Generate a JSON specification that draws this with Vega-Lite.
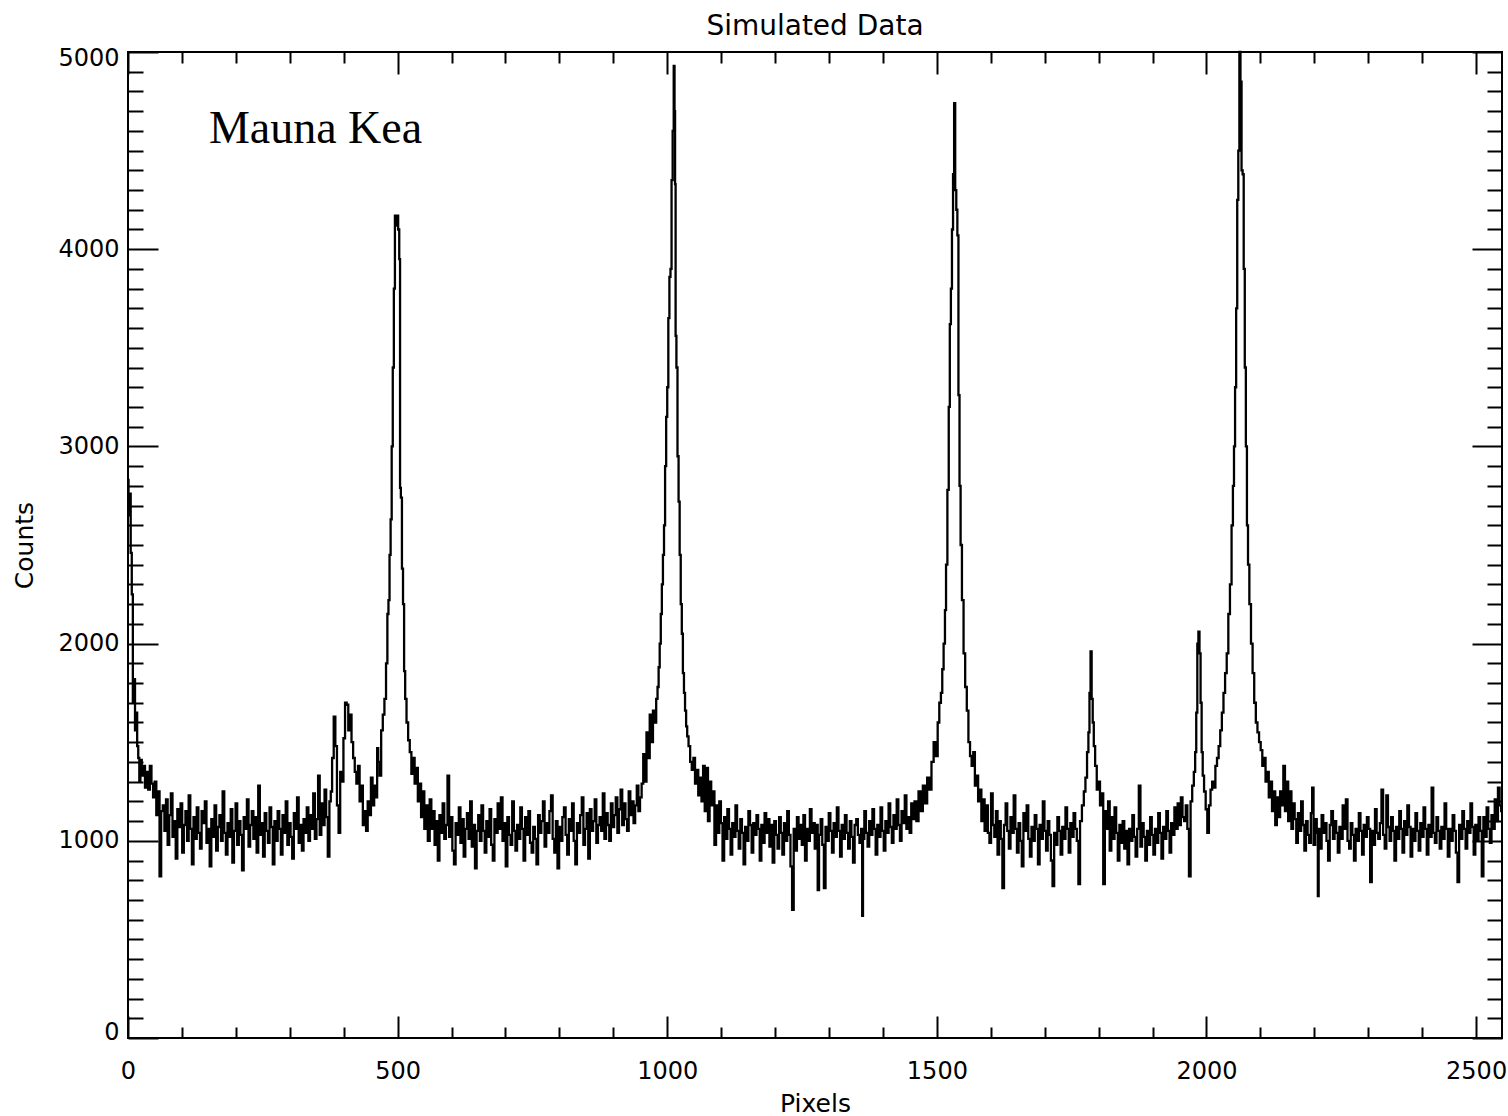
{
"$schema": "https://vega.github.io/schema/vega-lite/v6.json",
"width": 1374, "height": 986,
"autosize": {"type": "none"},
"padding": {"left": 128, "top": 52, "right": 6, "bottom": 78},
"background": "white",
"config": {
  "view": {"stroke": "black", "strokeWidth": 2},
  "axis": {"grid": false, "domain": false, "tickColor": "black", "tickWidth": 2, "labelFont": "DejaVu Sans", "labelFontSize": 24, "labelColor": "black", "titleFont": "DejaVu Sans", "titleFontSize": 25, "titleFontWeight": "normal", "titleColor": "black"}
},
"title": {"text": "Simulated Data", "font": "DejaVu Sans", "fontSize": 28, "fontWeight": "normal", "color": "black", "offset": 5},
"datasets": {
"spectrum": [
{"x":0,"y":2830},{"x":2,"y":2650},{"x":4,"y":2760},{"x":6,"y":2460},{"x":8,"y":2250},{"x":10,"y":1700},{"x":12,"y":1820},{"x":14,"y":1560},{"x":16,"y":1650},{"x":18,"y":1480},{"x":20,"y":1420},{"x":22,"y":1300},{"x":24,"y":1410},{"x":27,"y":1330},{"x":30,"y":1380},{"x":33,"y":1270},{"x":36,"y":1350},{"x":39,"y":1260},{"x":42,"y":1380},{"x":45,"y":1290},{"x":48,"y":1220},{"x":51,"y":1300},{"x":54,"y":1130},{"x":57,"y":1250},{"x":60,"y":820},{"x":63,"y":1150},
{"x":66,"y":1180},{"x":69,"y":1050},{"x":72,"y":1210},{"x":75,"y":980},{"x":78,"y":1130},{"x":81,"y":1240},{"x":84,"y":1020},{"x":87,"y":1100},{"x":90,"y":910},{"x":93,"y":1160},{"x":96,"y":1070},{"x":99,"y":1190},{"x":102,"y":940},{"x":105,"y":1080},{"x":108,"y":1150},{"x":111,"y":1000},{"x":114,"y":1230},{"x":117,"y":1060},{"x":120,"y":880},{"x":123,"y":1120},{"x":126,"y":1010},{"x":129,"y":1170},{"x":132,"y":1040},{"x":135,"y":960},{"x":138,"y":1150},{"x":141,"y":1090},{"x":144,"y":1200},{"x":147,"y":990},{"x":150,"y":1060},{"x":153,"y":870},{"x":156,"y":1110},{"x":159,"y":1020},{"x":162,"y":1180},{"x":165,"y":950},{"x":168,"y":1070},{"x":171,"y":1130},{"x":174,"y":1000},{"x":177,"y":1250},{"x":180,"y":1040},{"x":183,"y":930},{"x":186,"y":1090},{"x":189,"y":1020},{"x":192,"y":1160},{"x":195,"y":890},{"x":198,"y":1050},{"x":201,"y":1190},{"x":204,"y":980},{"x":207,"y":1100},{"x":210,"y":1030},{"x":213,"y":850},{"x":216,"y":1120},{"x":219,"y":1060},{"x":222,"y":1210},{"x":225,"y":970},{"x":228,"y":1080},{"x":231,"y":1150},{"x":234,"y":1010},{"x":237,"y":1120},{"x":240,"y":940},{"x":243,"y":1280},{"x":246,"y":1030},{"x":249,"y":1090},{"x":252,"y":920},{"x":255,"y":1140},{"x":258,"y":1050},{"x":261,"y":990},{"x":264,"y":1170},{"x":267,"y":1070},{"x":270,"y":880},{"x":273,"y":1100},{"x":276,"y":1000},{"x":279,"y":1150},{"x":282,"y":1060},{"x":285,"y":930},{"x":288,"y":1130},{"x":291,"y":1040},{"x":294,"y":1200},{"x":297,"y":980},{"x":300,"y":1090},{"x":303,"y":1020},{"x":306,"y":910},{"x":309,"y":1140},{"x":312,"y":1060},{"x":315,"y":1220},{"x":318,"y":990},{"x":321,"y":1080},{"x":324,"y":950},{"x":327,"y":1110},{"x":330,"y":1040},{"x":333,"y":1170},{"x":336,"y":1000},{"x":339,"y":1130},{"x":342,"y":1060},{"x":345,"y":1240},{"x":348,"y":1010},{"x":351,"y":1110},{"x":354,"y":1330},{"x":357,"y":1030},{"x":360,"y":1190},{"x":363,"y":1080},{"x":366,"y":1260},{"x":369,"y":1120},{"x":372,"y":920},{"x":375,"y":1200},
{"x":377,"y":1250},{"x":380,"y":1420},{"x":383,"y":1630},{"x":386,"y":1480},{"x":389,"y":1180},{"x":392,"y":1040},{"x":395,"y":1350},{"x":398,"y":1300},{"x":401,"y":1520},{"x":404,"y":1700},{"x":407,"y":1690},{"x":410,"y":1560},{"x":413,"y":1640},{"x":416,"y":1500},{"x":419,"y":1420},{"x":422,"y":1350},{"x":425,"y":1290},{"x":428,"y":1380},{"x":431,"y":1200},{"x":434,"y":1280},{"x":437,"y":1080},{"x":440,"y":1150},{"x":443,"y":1050},{"x":446,"y":1200},{"x":449,"y":1130},{"x":452,"y":1320},{"x":455,"y":1180},{"x":458,"y":1280},{"x":461,"y":1220},{"x":463,"y":1470},
{"x":465,"y":1400},{"x":468,"y":1330},{"x":471,"y":1560},{"x":474,"y":1640},{"x":477,"y":1720},{"x":480,"y":1900},{"x":482,"y":2150},{"x":484,"y":2220},{"x":486,"y":2450},{"x":488,"y":2630},{"x":490,"y":3000},{"x":492,"y":3400},{"x":494,"y":3800},{"x":496,"y":4170},{"x":498,"y":4120},{"x":500,"y":4170},{"x":502,"y":4100},{"x":504,"y":3950},{"x":505,"y":2790},{"x":507,"y":2740},{"x":509,"y":2380},{"x":511,"y":2200},{"x":513,"y":1860},{"x":515,"y":1720},{"x":518,"y":1600},{"x":521,"y":1510},{"x":524,"y":1450},{"x":527,"y":1340},{"x":530,"y":1420},{"x":533,"y":1290},{"x":536,"y":1370},{"x":539,"y":1200},{"x":542,"y":1290},{"x":545,"y":1120},{"x":548,"y":1250},{"x":551,"y":1060},{"x":554,"y":1180},
{"x":558,"y":1000},{"x":561,"y":1210},{"x":564,"y":1060},{"x":567,"y":1150},{"x":570,"y":980},{"x":573,"y":1100},{"x":576,"y":900},{"x":579,"y":1130},{"x":582,"y":1040},{"x":585,"y":1190},{"x":588,"y":1010},{"x":591,"y":1080},{"x":594,"y":1330},{"x":597,"y":1020},{"x":600,"y":1120},{"x":603,"y":950},{"x":606,"y":880},{"x":609,"y":1090},{"x":612,"y":1030},{"x":615,"y":1170},{"x":618,"y":990},{"x":621,"y":1110},{"x":624,"y":920},{"x":627,"y":1060},{"x":630,"y":1140},{"x":633,"y":1010},{"x":636,"y":1200},{"x":639,"y":970},{"x":642,"y":1080},{"x":645,"y":860},{"x":648,"y":1050},{"x":651,"y":1130},{"x":654,"y":1000},{"x":657,"y":1180},{"x":660,"y":1050},{"x":663,"y":940},{"x":666,"y":1100},{"x":669,"y":1020},{"x":672,"y":1160},{"x":675,"y":980},{"x":678,"y":900},{"x":681,"y":1110},{"x":684,"y":1040},{"x":687,"y":1190},{"x":690,"y":1060},{"x":693,"y":1220},{"x":696,"y":1000},{"x":699,"y":1090},{"x":702,"y":870},{"x":705,"y":1120},{"x":708,"y":1030},{"x":711,"y":980},{"x":714,"y":1200},{"x":717,"y":1050},{"x":720,"y":950},{"x":723,"y":1080},{"x":726,"y":1010},{"x":729,"y":1170},{"x":732,"y":1060},{"x":735,"y":900},{"x":738,"y":1120},{"x":741,"y":1030},{"x":744,"y":1150},{"x":747,"y":990},{"x":750,"y":940},{"x":753,"y":1070},{"x":756,"y":1010},{"x":759,"y":880},{"x":762,"y":1130},{"x":765,"y":1040},{"x":768,"y":1100},{"x":771,"y":1200},{"x":774,"y":970},{"x":777,"y":1090},{"x":780,"y":1040},{"x":783,"y":1150},{"x":786,"y":1230},{"x":789,"y":1010},{"x":792,"y":940},{"x":795,"y":1100},{"x":798,"y":860},{"x":801,"y":1070},{"x":804,"y":1000},{"x":807,"y":1120},{"x":810,"y":1170},{"x":813,"y":1030},{"x":816,"y":930},{"x":819,"y":1110},{"x":822,"y":1050},{"x":825,"y":1190},{"x":828,"y":1000},{"x":831,"y":880},{"x":834,"y":1090},{"x":837,"y":1040},{"x":840,"y":1130},{"x":843,"y":1220},{"x":846,"y":980},{"x":849,"y":1060},{"x":852,"y":1140},{"x":855,"y":910},{"x":858,"y":1160},{"x":861,"y":1050},{"x":864,"y":1100},{"x":867,"y":1210},{"x":870,"y":990},{"x":873,"y":1080},{"x":876,"y":1120},{"x":879,"y":1050},{"x":882,"y":1240},{"x":885,"y":1010},{"x":888,"y":1140},{"x":891,"y":1080},{"x":894,"y":1000},{"x":897,"y":1190},{"x":900,"y":1070},{"x":903,"y":1130},{"x":906,"y":1220},{"x":909,"y":1040},{"x":912,"y":1160},{"x":915,"y":1260},{"x":918,"y":1080},{"x":921,"y":1190},{"x":924,"y":1110},{"x":927,"y":1050},{"x":930,"y":1250},{"x":933,"y":1130},{"x":936,"y":1200},{"x":939,"y":1090},{"x":942,"y":1180},{"x":945,"y":1280},{"x":948,"y":1150},{"x":951,"y":1220},{"x":954,"y":1290},{"x":957,"y":1440},{"x":960,"y":1300},
{"x":963,"y":1550},{"x":966,"y":1420},{"x":969,"y":1640},{"x":972,"y":1500},{"x":975,"y":1660},{"x":978,"y":1600},{"x":981,"y":1720},{"x":983,"y":1780},{"x":985,"y":1880},{"x":987,"y":2000},{"x":989,"y":2150},{"x":991,"y":2300},{"x":993,"y":2450},{"x":995,"y":2600},{"x":997,"y":2900},{"x":999,"y":3150},{"x":1001,"y":3300},{"x":1003,"y":3650},{"x":1005,"y":3860},{"x":1007,"y":3900},{"x":1009,"y":4350},{"x":1011,"y":4600},{"x":1013,"y":4930},{"x":1014,"y":4700},{"x":1015,"y":4330},{"x":1016,"y":3560},{"x":1018,"y":3400},{"x":1020,"y":2950},{"x":1022,"y":2720},{"x":1024,"y":2450},{"x":1026,"y":2200},{"x":1028,"y":2050},{"x":1030,"y":1850},{"x":1032,"y":1750},{"x":1034,"y":1660},{"x":1036,"y":1580},{"x":1038,"y":1530},{"x":1041,"y":1480},{"x":1044,"y":1400},{"x":1047,"y":1360},{"x":1050,"y":1420},{"x":1053,"y":1290},{"x":1056,"y":1360},{"x":1059,"y":1230},{"x":1062,"y":1320},
{"x":1065,"y":1200},{"x":1068,"y":1380},{"x":1071,"y":1150},{"x":1074,"y":1370},{"x":1077,"y":1100},{"x":1080,"y":1300},{"x":1083,"y":1180},{"x":1086,"y":1250},{"x":1089,"y":980},{"x":1092,"y":1180},{"x":1095,"y":1040},{"x":1098,"y":1200},{"x":1101,"y":1090},{"x":1104,"y":900},{"x":1107,"y":1120},{"x":1110,"y":1010},{"x":1113,"y":1160},{"x":1116,"y":1060},{"x":1119,"y":930},{"x":1122,"y":1090},{"x":1125,"y":1020},{"x":1128,"y":1180},{"x":1131,"y":1050},{"x":1134,"y":960},{"x":1137,"y":1110},{"x":1140,"y":1040},{"x":1143,"y":880},{"x":1146,"y":1070},{"x":1149,"y":1000},{"x":1152,"y":1150},{"x":1155,"y":1080},{"x":1158,"y":940},{"x":1161,"y":1090},{"x":1164,"y":1030},{"x":1167,"y":1130},{"x":1170,"y":1060},{"x":1173,"y":900},{"x":1176,"y":1080},{"x":1179,"y":990},{"x":1182,"y":1140},{"x":1185,"y":1040},{"x":1188,"y":1110},{"x":1191,"y":970},{"x":1194,"y":1080},{"x":1197,"y":890},{"x":1200,"y":1100},{"x":1203,"y":1030},{"x":1206,"y":960},{"x":1209,"y":1120},{"x":1212,"y":1040},{"x":1215,"y":930},{"x":1218,"y":1090},{"x":1221,"y":1000},{"x":1224,"y":1150},{"x":1227,"y":1030},{"x":1230,"y":870},{"x":1233,"y":650},{"x":1236,"y":1060},{"x":1239,"y":950},{"x":1242,"y":1120},{"x":1245,"y":1010},{"x":1248,"y":1080},{"x":1251,"y":980},{"x":1254,"y":1130},{"x":1257,"y":900},{"x":1260,"y":1060},{"x":1263,"y":1000},{"x":1266,"y":1160},{"x":1269,"y":1040},{"x":1272,"y":1090},{"x":1275,"y":960},{"x":1278,"y":1080},{"x":1280,"y":750},{"x":1283,"y":1030},{"x":1286,"y":1110},{"x":1289,"y":980},{"x":1292,"y":760},{"x":1295,"y":1070},{"x":1298,"y":1000},{"x":1301,"y":1140},{"x":1304,"y":1050},{"x":1307,"y":940},{"x":1310,"y":1090},{"x":1313,"y":1020},{"x":1316,"y":1170},{"x":1319,"y":1050},{"x":1322,"y":920},{"x":1325,"y":1080},{"x":1328,"y":1010},{"x":1331,"y":1130},{"x":1334,"y":1040},{"x":1337,"y":960},{"x":1340,"y":1100},{"x":1343,"y":1020},{"x":1346,"y":890},{"x":1349,"y":1080},{"x":1352,"y":1110},{"x":1355,"y":1030},{"x":1358,"y":990},{"x":1361,"y":1060},{"x":1362,"y":620},{"x":1364,"y":1010},{"x":1367,"y":1150},{"x":1370,"y":1040},{"x":1373,"y":970},{"x":1376,"y":1100},{"x":1379,"y":1030},{"x":1382,"y":1160},{"x":1385,"y":1060},{"x":1388,"y":930},{"x":1391,"y":1080},{"x":1394,"y":1020},{"x":1397,"y":1170},{"x":1400,"y":1050},{"x":1403,"y":950},{"x":1406,"y":1100},{"x":1409,"y":1040},{"x":1412,"y":1190},{"x":1415,"y":1070},{"x":1418,"y":990},{"x":1421,"y":1130},{"x":1424,"y":1060},{"x":1427,"y":1210},{"x":1430,"y":1080},{"x":1433,"y":1000},{"x":1436,"y":1150},{"x":1439,"y":1090},{"x":1442,"y":1230},{"x":1445,"y":1060},{"x":1448,"y":1120},{"x":1451,"y":1040},{"x":1454,"y":1190},{"x":1457,"y":1110},
{"x":1460,"y":1200},{"x":1464,"y":1100},{"x":1468,"y":1250},{"x":1472,"y":1150},{"x":1476,"y":1280},{"x":1480,"y":1190},{"x":1484,"y":1320},{"x":1488,"y":1260},{"x":1492,"y":1400},{"x":1496,"y":1500},{"x":1500,"y":1430},{"x":1503,"y":1600},{"x":1506,"y":1700},{"x":1509,"y":1750},{"x":1511,"y":1870},{"x":1514,"y":2000},{"x":1516,"y":2170},{"x":1518,"y":2400},{"x":1521,"y":2780},{"x":1523,"y":3200},{"x":1525,"y":3620},{"x":1527,"y":3800},{"x":1529,"y":4100},{"x":1531,"y":4380},{"x":1533,"y":4740},{"x":1535,"y":4300},{"x":1537,"y":4200},{"x":1539,"y":4070},{"x":1541,"y":3260},{"x":1543,"y":2800},{"x":1545,"y":2500},{"x":1548,"y":2220},{"x":1551,"y":1950},{"x":1554,"y":1780},{"x":1557,"y":1660},{"x":1560,"y":1500},{"x":1563,"y":1430},{"x":1566,"y":1380},{"x":1569,"y":1450},{"x":1572,"y":1280},{"x":1575,"y":1330},{"x":1578,"y":1200},{"x":1581,"y":1260},{"x":1584,"y":1100},{"x":1587,"y":1210},{"x":1590,"y":1050},
{"x":1593,"y":1180},{"x":1596,"y":1040},{"x":1599,"y":990},{"x":1602,"y":1240},{"x":1605,"y":1080},{"x":1608,"y":1020},{"x":1611,"y":1150},{"x":1614,"y":930},{"x":1617,"y":1100},{"x":1620,"y":1010},{"x":1623,"y":760},{"x":1626,"y":1080},{"x":1629,"y":1190},{"x":1632,"y":1050},{"x":1635,"y":960},{"x":1638,"y":1120},{"x":1641,"y":1040},{"x":1644,"y":1230},{"x":1647,"y":1060},{"x":1650,"y":940},{"x":1653,"y":1090},{"x":1656,"y":1000},{"x":1659,"y":870},{"x":1662,"y":1140},{"x":1665,"y":1050},{"x":1668,"y":1180},{"x":1671,"y":1010},{"x":1674,"y":920},{"x":1677,"y":1070},{"x":1680,"y":1000},{"x":1683,"y":1130},{"x":1686,"y":1060},{"x":1689,"y":880},{"x":1692,"y":1080},{"x":1695,"y":1010},{"x":1698,"y":1200},{"x":1701,"y":1050},{"x":1704,"y":950},{"x":1707,"y":1100},{"x":1710,"y":1030},{"x":1713,"y":900},{"x":1716,"y":770},{"x":1719,"y":1040},{"x":1722,"y":980},{"x":1725,"y":1120},{"x":1728,"y":1050},{"x":1731,"y":930},{"x":1734,"y":1070},{"x":1737,"y":1010},{"x":1740,"y":1170},{"x":1743,"y":1060},{"x":1746,"y":940},{"x":1749,"y":1090},{"x":1752,"y":1020},{"x":1755,"y":1140},{"x":1758,"y":1060},{"x":1761,"y":1000},{"x":1764,"y":780},{"x":1767,"y":1100},
{"x":1771,"y":1180},{"x":1774,"y":1250},{"x":1777,"y":1320},{"x":1780,"y":1450},{"x":1782,"y":1550},{"x":1784,"y":1750},{"x":1786,"y":1960},{"x":1788,"y":1720},{"x":1790,"y":1600},{"x":1792,"y":1480},{"x":1795,"y":1380},{"x":1798,"y":1260},{"x":1801,"y":1300},{"x":1804,"y":1180},{"x":1807,"y":1240},{"x":1810,"y":780},{"x":1813,"y":1150},{"x":1816,"y":1060},{"x":1819,"y":1200},
{"x":1822,"y":950},{"x":1825,"y":1120},{"x":1828,"y":1010},{"x":1831,"y":1170},{"x":1834,"y":1040},{"x":1837,"y":900},{"x":1840,"y":1080},{"x":1843,"y":990},{"x":1846,"y":1100},{"x":1849,"y":960},{"x":1852,"y":1050},{"x":1855,"y":880},{"x":1858,"y":1060},{"x":1861,"y":1000},{"x":1864,"y":1130},{"x":1867,"y":1020},{"x":1870,"y":920},{"x":1873,"y":1060},{"x":1876,"y":1280},{"x":1879,"y":970},{"x":1882,"y":1090},{"x":1885,"y":1020},{"x":1888,"y":900},{"x":1891,"y":1050},{"x":1894,"y":980},{"x":1897,"y":1120},{"x":1900,"y":1030},{"x":1903,"y":930},{"x":1906,"y":1060},{"x":1909,"y":990},{"x":1912,"y":1140},{"x":1915,"y":1040},{"x":1918,"y":910},{"x":1921,"y":1070},{"x":1924,"y":1010},{"x":1927,"y":1150},{"x":1930,"y":1050},{"x":1933,"y":940},{"x":1936,"y":1090},{"x":1939,"y":1030},{"x":1942,"y":1170},{"x":1945,"y":1060},{"x":1948,"y":1190},{"x":1951,"y":1080},{"x":1954,"y":1220},{"x":1957,"y":1120},{"x":1960,"y":1100},
{"x":1963,"y":1180},{"x":1966,"y":1060},{"x":1969,"y":820},{"x":1972,"y":1200},{"x":1975,"y":1280},{"x":1978,"y":1350},{"x":1980,"y":1450},{"x":1982,"y":1650},{"x":1984,"y":2000},{"x":1986,"y":2060},{"x":1988,"y":1950},{"x":1990,"y":1700},{"x":1992,"y":1450},{"x":1994,"y":1330},{"x":1997,"y":1250},{"x":2000,"y":1160},{"x":2003,"y":1040},{"x":2006,"y":1180},{"x":2009,"y":1260},{"x":2012,"y":1300},{"x":2015,"y":1270},{"x":2018,"y":1380},{"x":2021,"y":1420},{"x":2024,"y":1480},{"x":2027,"y":1560},{"x":2030,"y":1650},{"x":2033,"y":1750},{"x":2036,"y":1850},{"x":2039,"y":1950},{"x":2042,"y":2150},{"x":2045,"y":2300},{"x":2048,"y":2600},{"x":2050,"y":2800},{"x":2052,"y":3000},{"x":2054,"y":3300},{"x":2056,"y":3700},{"x":2058,"y":4250},{"x":2060,"y":4500},{"x":2062,"y":5000},{"x":2064,"y":4850},{"x":2066,"y":4400},{"x":2068,"y":4380},{"x":2070,"y":3900},{"x":2072,"y":3400},{"x":2074,"y":3000},{"x":2076,"y":2600},{"x":2078,"y":2400},{"x":2081,"y":2200},{"x":2084,"y":2000},{"x":2087,"y":1850},{"x":2090,"y":1700},{"x":2093,"y":1600},{"x":2096,"y":1550},{"x":2099,"y":1500},{"x":2102,"y":1460},{"x":2105,"y":1380},{"x":2108,"y":1420},{"x":2111,"y":1300},{"x":2114,"y":1350},{"x":2117,"y":1220},{"x":2120,"y":1300},{"x":2123,"y":1150},{"x":2126,"y":1250},{"x":2129,"y":1080},{"x":2132,"y":1220},{"x":2135,"y":1120},
{"x":2138,"y":1250},{"x":2141,"y":1180},{"x":2144,"y":1380},{"x":2147,"y":1150},{"x":2150,"y":1300},{"x":2153,"y":1100},{"x":2156,"y":1250},{"x":2159,"y":1060},{"x":2162,"y":1190},{"x":2165,"y":1110},{"x":2168,"y":990},{"x":2171,"y":1140},{"x":2174,"y":1050},{"x":2177,"y":1200},{"x":2180,"y":1080},{"x":2183,"y":950},{"x":2186,"y":1100},{"x":2189,"y":1030},{"x":2192,"y":990},{"x":2195,"y":1140},{"x":2197,"y":1270},{"x":2200,"y":980},{"x":2203,"y":1110},{"x":2206,"y":1040},{"x":2207,"y":720},{"x":2209,"y":1060},{"x":2212,"y":960},{"x":2215,"y":1130},{"x":2218,"y":1040},{"x":2221,"y":1090},{"x":2224,"y":1000},{"x":2227,"y":900},{"x":2230,"y":1080},{"x":2233,"y":1150},{"x":2236,"y":1010},{"x":2239,"y":1100},{"x":2242,"y":1040},{"x":2245,"y":940},{"x":2248,"y":1070},{"x":2251,"y":1010},{"x":2254,"y":1180},{"x":2257,"y":1060},{"x":2260,"y":1210},{"x":2263,"y":1000},{"x":2266,"y":960},{"x":2269,"y":1090},{"x":2272,"y":1030},{"x":2275,"y":900},{"x":2278,"y":1060},{"x":2281,"y":1000},{"x":2284,"y":1140},{"x":2287,"y":1050},{"x":2290,"y":930},{"x":2293,"y":1080},{"x":2296,"y":1020},{"x":2299,"y":1120},{"x":2302,"y":1060},{"x":2305,"y":790},{"x":2308,"y":1050},{"x":2311,"y":980},{"x":2314,"y":1160},{"x":2317,"y":1040},{"x":2320,"y":1010},{"x":2323,"y":1090},{"x":2326,"y":1260},{"x":2329,"y":1030},{"x":2332,"y":960},{"x":2335,"y":1230},{"x":2338,"y":1070},{"x":2341,"y":1000},{"x":2344,"y":1120},{"x":2347,"y":1050},{"x":2350,"y":900},{"x":2353,"y":1070},{"x":2356,"y":1010},{"x":2359,"y":1150},{"x":2362,"y":1060},{"x":2365,"y":940},{"x":2368,"y":1100},{"x":2371,"y":1030},{"x":2374,"y":1180},{"x":2377,"y":1070},{"x":2380,"y":920},{"x":2383,"y":1060},{"x":2386,"y":1000},{"x":2389,"y":1140},{"x":2392,"y":1050},{"x":2395,"y":950},{"x":2398,"y":1090},{"x":2401,"y":1020},{"x":2404,"y":1170},{"x":2407,"y":1060},{"x":2410,"y":930},{"x":2413,"y":1080},{"x":2416,"y":1020},{"x":2419,"y":1270},{"x":2422,"y":1040},{"x":2425,"y":990},{"x":2428,"y":1120},{"x":2431,"y":1050},{"x":2434,"y":960},{"x":2437,"y":1070},{"x":2440,"y":1010},{"x":2443,"y":1190},{"x":2446,"y":1060},{"x":2449,"y":920},{"x":2452,"y":1060},{"x":2455,"y":1000},{"x":2458,"y":1130},{"x":2461,"y":1050},{"x":2464,"y":940},{"x":2467,"y":790},{"x":2470,"y":1080},{"x":2473,"y":1010},{"x":2476,"y":1150},{"x":2479,"y":1060},{"x":2482,"y":960},{"x":2485,"y":1100},{"x":2488,"y":1040},{"x":2491,"y":1190},{"x":2494,"y":1070},{"x":2497,"y":930},{"x":2500,"y":1080},{"x":2503,"y":1000},{"x":2506,"y":1120},{"x":2509,"y":1050},{"x":2512,"y":820},{"x":2515,"y":1120},{"x":2518,"y":1020},{"x":2521,"y":1170},{"x":2524,"y":1060},{"x":2527,"y":990},{"x":2530,"y":1130},{"x":2533,"y":1060},{"x":2536,"y":1210},{"x":2539,"y":1100},{"x":2542,"y":1270},{"x":2545,"y":1180},{"x":2548,"y":1150}
]
},
"layer": [
  {
    "data": {"name": "spectrum"},
    "mark": {"type": "line", "interpolate": "step", "color": "black", "strokeWidth": 2.3},
    "encoding": {
      "x": {"field": "x", "type": "quantitative", "scale": {"domain": [0, 2548], "nice": false, "zero": false},
            "axis": {"orient": "bottom", "values": [0, 500, 1000, 1500, 2000, 2500], "format": "d", "tickSize": -22, "labelPadding": 43, "labelFlush": false, "title": "Pixels", "titlePadding": 8}},
      "y": {"field": "y", "type": "quantitative", "scale": {"domain": [0, 5000], "nice": false},
            "axis": {"orient": "left", "values": [0, 1000, 2000, 3000, 4000, 5000], "format": "d", "tickSize": -30, "labelPadding": 39, "labelFlush": true, "labelFlushOffset": 6, "title": "Counts", "titlePadding": 20}}
    }
  },
  {
    "data": {"name": "spectrum"},
    "mark": {"type": "line", "opacity": 0},
    "encoding": {
      "x": {"field": "x", "type": "quantitative", "scale": {"domain": [0, 2548], "nice": false, "zero": false},
            "axis": {"orient": "bottom", "values": [100,200,300,400,600,700,800,900,1100,1200,1300,1400,1600,1700,1800,1900,2100,2200,2300,2400], "tickSize": -11, "labels": false, "title": null}},
      "y": {"field": "y", "type": "quantitative", "scale": {"domain": [0, 5000], "nice": false},
            "axis": {"orient": "left", "values": [100,200,300,400,500,600,700,800,900,1100,1200,1300,1400,1500,1600,1700,1800,1900,2100,2200,2300,2400,2500,2600,2700,2800,2900,3100,3200,3300,3400,3500,3600,3700,3800,3900,4100,4200,4300,4400,4500,4600,4700,4800,4900], "tickSize": -15, "labels": false, "title": null}}
    }
  },
  {
    "data": {"name": "spectrum"},
    "mark": {"type": "line", "opacity": 0},
    "encoding": {
      "x": {"field": "x", "type": "quantitative", "scale": {"domain": [0, 2548], "nice": false, "zero": false},
            "axis": {"orient": "top", "values": [0, 500, 1000, 1500, 2000, 2500], "tickSize": -22, "labels": false, "title": null}},
      "y": {"field": "y", "type": "quantitative", "scale": {"domain": [0, 5000], "nice": false},
            "axis": {"orient": "right", "values": [0, 1000, 2000, 3000, 4000, 5000], "tickSize": -30, "labels": false, "title": null}}
    }
  },
  {
    "data": {"name": "spectrum"},
    "mark": {"type": "line", "opacity": 0},
    "encoding": {
      "x": {"field": "x", "type": "quantitative", "scale": {"domain": [0, 2548], "nice": false, "zero": false},
            "axis": {"orient": "top", "values": [100,200,300,400,600,700,800,900,1100,1200,1300,1400,1600,1700,1800,1900,2100,2200,2300,2400], "tickSize": -11, "labels": false, "title": null}},
      "y": {"field": "y", "type": "quantitative", "scale": {"domain": [0, 5000], "nice": false},
            "axis": {"orient": "right", "values": [100,200,300,400,500,600,700,800,900,1100,1200,1300,1400,1500,1600,1700,1800,1900,2100,2200,2300,2400,2500,2600,2700,2800,2900,3100,3200,3300,3400,3500,3600,3700,3800,3900,4100,4200,4300,4400,4500,4600,4700,4800,4900], "tickSize": -15, "labels": false, "title": null}}
    }
  },
  {
    "data": {"values": [{"x": 150, "y": 4538, "label": "Mauna Kea"}]},
    "mark": {"type": "text", "font": "Liberation Serif", "fontSize": 46, "align": "left", "baseline": "alphabetic", "color": "black"},
    "encoding": {
      "x": {"field": "x", "type": "quantitative", "scale": {"domain": [0, 2548], "nice": false, "zero": false}, "axis": null},
      "y": {"field": "y", "type": "quantitative", "scale": {"domain": [0, 5000], "nice": false}, "axis": null},
      "text": {"field": "label"}
    }
  }
],
"resolve": {"axis": {"x": "independent", "y": "independent"}}
}
